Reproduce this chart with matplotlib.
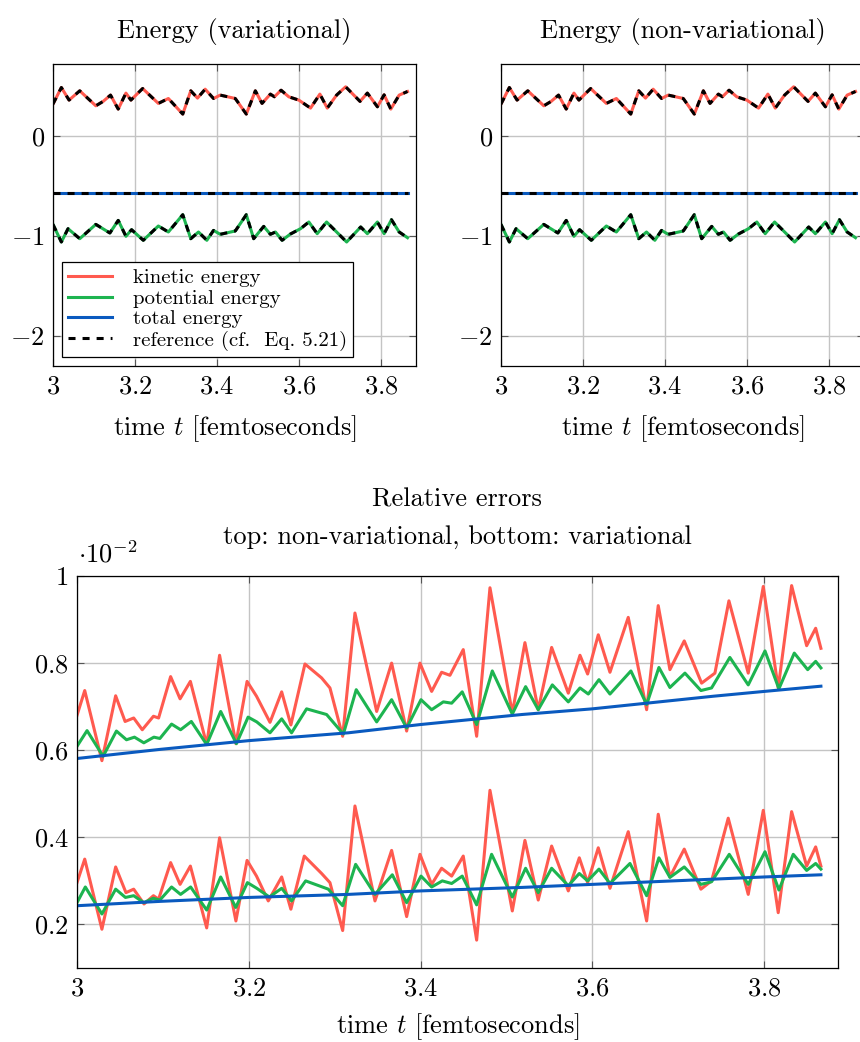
import numpy as np
import matplotlib.pyplot as plt

plt.rcParams['font.family'] = 'serif'
plt.rcParams['font.serif'] = ['cmr10']
plt.rcParams['mathtext.fontset'] = 'cm'
plt.rcParams['axes.formatter.use_mathtext'] = True

# energias, t en femtosegundos
t_kin = [3.000, 3.0204, 3.0392, 3.0653, 3.1045, 3.1224, 3.1404, 3.1592, 3.178, 3.1902,
         3.2188, 3.2571, 3.2816, 3.3167, 3.3363, 3.3527, 3.3714, 3.3918, 3.4082, 3.4449,
         3.4718, 3.4939, 3.5102, 3.5306, 3.5404, 3.5567, 3.5755, 3.600, 3.6286, 3.6514,
         3.6694, 3.6922, 3.7143, 3.7494, 3.7673, 3.7918, 3.8082, 3.8245, 3.8449, 3.8653]
e_kin = [0.319, 0.485, 0.359, 0.452, 0.302, 0.346, 0.409, 0.269, 0.429, 0.359,
         0.475, 0.326, 0.375, 0.219, 0.452, 0.379, 0.468, 0.375, 0.409, 0.375,
         0.219, 0.452, 0.326, 0.419, 0.392, 0.458, 0.392, 0.359, 0.279, 0.419,
         0.279, 0.409, 0.492, 0.346, 0.429, 0.292, 0.412, 0.269, 0.409, 0.445]

t_pot = [3.000, 3.0204, 3.0367, 3.0653, 3.1045, 3.1388, 3.1592, 3.178, 3.1918, 3.2204,
         3.2571, 3.2816, 3.3167, 3.3363, 3.3551, 3.3755, 3.3918, 3.4082, 3.4449, 3.4718,
         3.4898, 3.5143, 3.5306, 3.5429, 3.5592, 3.5796, 3.6041, 3.6245, 3.6449, 3.6678,
         3.7167, 3.751, 3.7673, 3.7918, 3.8082, 3.8261, 3.8449, 3.8653]
e_pot = [-0.884, -1.060, -0.927, -1.027, -0.884, -0.970, -0.844, -1.003, -0.937, -1.043,
         -0.900, -0.960, -0.787, -1.027, -0.960, -1.043, -0.944, -0.983, -0.950, -0.787,
         -1.027, -0.904, -0.983, -0.960, -1.043, -0.980, -0.927, -0.860, -0.977, -0.860,
         -1.060, -0.910, -0.977, -0.860, -0.977, -0.837, -0.960, -1.017]

t_tot = [3.000, 3.8653]
e_tot = [-0.572, -0.572]

# errores relativos (x 1e-2)
t_kin_nv = [3.000, 3.009, 3.029, 3.045, 3.056, 3.066, 3.076, 3.089, 3.095, 3.109,
            3.120, 3.132, 3.151, 3.166, 3.185, 3.198, 3.209, 3.2247, 3.2383, 3.249,
            3.2654, 3.2848, 3.2945, 3.3093, 3.3236, 3.3489, 3.3663, 3.3838, 3.3993, 3.4129,
            3.4245, 3.4342, 3.4497, 3.4653, 3.4808, 3.5068, 3.5215, 3.537, 3.5526, 3.572,
            3.5856, 3.5945, 3.6069, 3.6205, 3.6418, 3.6632, 3.6767, 3.6903, 3.707, 3.7272,
            3.7427, 3.759, 3.7815, 3.799, 3.8164, 3.832, 3.8495, 3.860, 3.8661]
err_kin_nv = [0.680, 0.737, 0.576, 0.725, 0.666, 0.674, 0.647, 0.678, 0.674, 0.769,
              0.718, 0.758, 0.613, 0.818, 0.615, 0.758, 0.724, 0.664, 0.734, 0.658,
              0.798, 0.766, 0.743, 0.632, 0.915, 0.689, 0.800, 0.644, 0.800, 0.735,
              0.779, 0.772, 0.831, 0.632, 0.973, 0.685, 0.847, 0.693, 0.836, 0.731,
              0.818, 0.775, 0.865, 0.779, 0.905, 0.693, 0.932, 0.785, 0.851, 0.754,
              0.777, 0.943, 0.777, 0.976, 0.743, 0.978, 0.840, 0.880, 0.834]

t_pot_nv = [3.000, 3.0117, 3.0304, 3.0459, 3.0576, 3.0669, 3.0778, 3.0895, 3.0965, 3.1101,
            3.1206, 3.1331, 3.151, 3.1673, 3.1856, 3.1992, 3.2093, 3.2247, 3.2383, 3.2498,
            3.2673, 3.2906, 3.3101, 3.3251, 3.3489, 3.3663, 3.3838, 3.4005, 3.4129, 3.4265,
            3.4362, 3.4485, 3.4653, 3.4835, 3.5068, 3.5223, 3.537, 3.5534, 3.572, 3.5856,
            3.5953, 3.6077, 3.6205, 3.6449, 3.6632, 3.6775, 3.6903, 3.7078, 3.7264, 3.7388,
            3.7601, 3.7815, 3.801, 3.8172, 3.8351, 3.8507, 3.860, 3.8661]
err_pot_nv = [0.609, 0.645, 0.586, 0.644, 0.624, 0.630, 0.617, 0.630, 0.627, 0.660,
              0.647, 0.666, 0.613, 0.689, 0.615, 0.676, 0.665, 0.640, 0.672, 0.640,
              0.695, 0.682, 0.637, 0.739, 0.665, 0.716, 0.651, 0.716, 0.693, 0.711,
              0.708, 0.734, 0.659, 0.782, 0.683, 0.746, 0.693, 0.750, 0.711, 0.743,
              0.729, 0.762, 0.729, 0.782, 0.705, 0.790, 0.744, 0.777, 0.737, 0.743,
              0.813, 0.750, 0.828, 0.741, 0.823, 0.785, 0.804, 0.789]

t_tot_nv = [3.000, 3.097, 3.200, 3.316, 3.400, 3.518, 3.600, 3.741, 3.800, 3.8661]
err_tot_nv = [0.581, 0.602, 0.622, 0.640, 0.659, 0.682, 0.695, 0.724, 0.735, 0.747]

t_kin_v = [3.000, 3.009, 3.029, 3.045, 3.057, 3.066, 3.078, 3.089, 3.095, 3.109,
           3.120, 3.132, 3.151, 3.166, 3.185, 3.198, 3.209, 3.2227, 3.2383, 3.249,
           3.2646, 3.2848, 3.2945, 3.3093, 3.3236, 3.3469, 3.3663, 3.3838, 3.3993, 3.4129,
           3.4245, 3.4362, 3.4497, 3.4653, 3.4808, 3.5068, 3.5215, 3.537, 3.5526, 3.572,
           3.5848, 3.5945, 3.6069, 3.6205, 3.6418, 3.6632, 3.6767, 3.6903, 3.707, 3.7264,
           3.7388, 3.7582, 3.7815, 3.799, 3.8164, 3.832, 3.8495, 3.860, 3.8661]
err_kin_v = [0.296, 0.350, 0.189, 0.332, 0.273, 0.281, 0.247, 0.266, 0.258, 0.342,
             0.292, 0.334, 0.192, 0.399, 0.208, 0.347, 0.311, 0.254, 0.309, 0.235,
             0.357, 0.317, 0.296, 0.186, 0.472, 0.254, 0.370, 0.218, 0.361, 0.292,
             0.329, 0.311, 0.357, 0.164, 0.508, 0.231, 0.393, 0.256, 0.380, 0.277,
             0.353, 0.296, 0.376, 0.283, 0.413, 0.208, 0.453, 0.309, 0.373, 0.281,
             0.300, 0.444, 0.269, 0.462, 0.227, 0.459, 0.334, 0.378, 0.334]

t_pot_v = [3.000, 3.0097, 3.029, 3.045, 3.0564, 3.066, 3.0778, 3.0887, 3.0965, 3.1101,
           3.1206, 3.1323, 3.151, 3.1673, 3.1848, 3.1984, 3.2093, 3.224, 3.2383, 3.2498,
           3.2662, 3.2926, 3.3093, 3.3244, 3.3469, 3.3671, 3.3838, 3.4005, 3.4129, 3.4253,
           3.4362, 3.4485, 3.4653, 3.4827, 3.5068, 3.5223, 3.537, 3.5526, 3.572, 3.5848,
           3.5945, 3.6077, 3.6205, 3.6438, 3.6632, 3.6775, 3.6903, 3.707, 3.7264, 3.7388,
           3.7594, 3.7815, 3.801, 3.8172, 3.8339, 3.8495, 3.860, 3.8661]
err_pot_v = [0.250, 0.286, 0.224, 0.281, 0.262, 0.266, 0.250, 0.260, 0.256, 0.286,
             0.269, 0.286, 0.233, 0.309, 0.239, 0.296, 0.283, 0.263, 0.283, 0.254,
             0.300, 0.281, 0.243, 0.338, 0.269, 0.314, 0.250, 0.311, 0.286, 0.300,
             0.294, 0.311, 0.245, 0.361, 0.263, 0.329, 0.273, 0.329, 0.289, 0.317,
             0.300, 0.327, 0.294, 0.340, 0.266, 0.353, 0.308, 0.332, 0.292, 0.298,
             0.361, 0.292, 0.367, 0.279, 0.361, 0.324, 0.340, 0.327]

t_tot_v = [3.000, 3.097, 3.200, 3.316, 3.400, 3.518, 3.600, 3.741, 3.800, 3.8661]
err_tot_v = [0.243, 0.253, 0.262, 0.269, 0.277, 0.285, 0.292, 0.304, 0.309, 0.314]

x_ticks = [3, 3.2, 3.4, 3.6, 3.8]
x_labels = ["$3$", "$3.2$", "$3.4$", "$3.6$", "$3.8$"]

c_kin = "#ff5a4f"
c_pot = "#1db450"
c_tot = "#0a5abf"
lw = 2.2
fs = 19


def estilo(ax, pad_x=11):
    ax.grid(True, color="#c4c4c4", lw=1.0)
    ax.set_axisbelow(True)
    ax.tick_params(direction="in", length=5, width=0.8, color="#555555",
                   top=True, right=True, labelsize=fs, pad=6)
    for s in ax.spines.values():
        s.set_linewidth(0.9)
    ax.set_xlim(3, 3.886)
    ax.set_xticks(x_ticks)
    ax.set_xticklabels(x_labels)
    ax.set_xlabel("time $t$ [femtoseconds]", fontsize=fs, labelpad=pad_x)


fig = plt.figure(figsize=(8.6, 10.42), dpi=100)

ax1 = fig.add_axes([53 / 860, 1 - 366 / 1042, 363 / 860, 302 / 1042])
ax2 = fig.add_axes([501 / 860, 1 - 366 / 1042, 363 / 860, 302 / 1042])

for ax, titulo in [(ax1, "Energy (variational)"), (ax2, "Energy (non-variational)")]:
    ax.plot(t_kin, e_kin, color=c_kin, lw=lw, label="kinetic energy", solid_joinstyle="round")
    ax.plot(t_pot, e_pot, color=c_pot, lw=lw, label="potential energy", solid_joinstyle="round")
    ax.plot(t_tot, e_tot, color=c_tot, lw=lw, label="total energy")
    ax.plot(t_kin, e_kin, "--", color="black", lw=lw, dashes=(2.3, 2.3),
            label="reference (cf.  Eq. 5.21)")
    ax.plot(t_pot, e_pot, "--", color="black", lw=lw, dashes=(2.3, 2.3))
    ax.plot(t_tot, e_tot, "--", color="black", lw=lw, dashes=(2.3, 2.3))
    estilo(ax)
    ax.set_ylim(-2.3, 0.72)
    ax.set_yticks([-2, -1, 0])
    ax.set_yticklabels(["$-2$", "$-1$", "$0$"])
    ax.set_title(titulo, fontsize=fs, pad=19)

leg = ax1.legend(loc="lower left", bbox_to_anchor=(0.025, 0.03), borderaxespad=0,
                 fontsize=15, fancybox=False, frameon=True, edgecolor="black",
                 framealpha=1, handlelength=2.1, handletextpad=1.0,
                 labelspacing=0.1, borderpad=0.3)
leg.get_frame().set_linewidth(0.9)

ax3 = fig.add_axes([77 / 860, 1 - 968 / 1042, 761 / 860, 392 / 1042])
for tt, vv, cc in [(t_kin_nv, err_kin_nv, c_kin), (t_pot_nv, err_pot_nv, c_pot),
                   (t_tot_nv, err_tot_nv, c_tot), (t_kin_v, err_kin_v, c_kin),
                   (t_pot_v, err_pot_v, c_pot), (t_tot_v, err_tot_v, c_tot)]:
    ax3.plot(tt, vv, color=cc, lw=lw, solid_joinstyle="round")
estilo(ax3, pad_x=8)
ax3.set_ylim(0.1, 1.0)
ax3.set_yticks([0.2, 0.4, 0.6, 0.8, 1.0])
ax3.set_yticklabels(["$0.2$", "$0.4$", "$0.6$", "$0.8$", "$1$"])

fig.text(457 / 860, 1 - 500 / 1042, "Relative errors", ha="center", va="center", fontsize=fs)
fig.text(457 / 860, 1 - 537 / 1042, "top: non-variational, bottom: variational",
         ha="center", va="center", fontsize=fs)
fig.text(78 / 860, 1 - 554 / 1042, r"$\cdot10^{-2}$", ha="left", va="center", fontsize=fs)

fig.savefig("out.png", dpi=100)
